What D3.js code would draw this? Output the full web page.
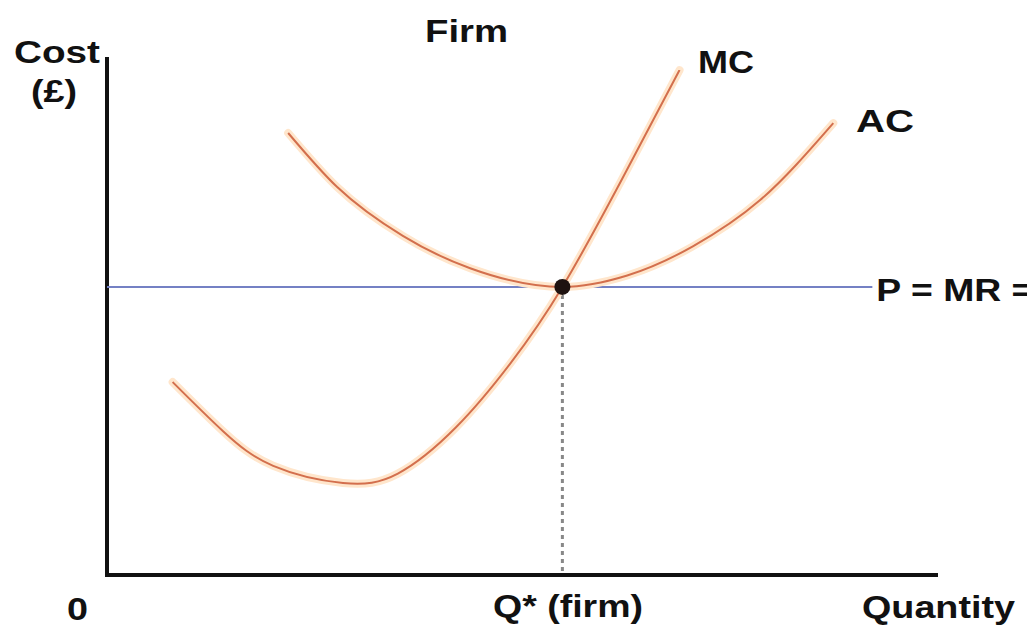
<!DOCTYPE html>
<html>
<head>
<meta charset="utf-8">
<script src="https://cdn.jsdelivr.net/npm/d3@7"></script>
<style>
  body { margin: 0; background: #fff; }
  svg { display: block; }
  text { font-family: "Liberation Sans", Arial, sans-serif; font-weight: bold; fill: #111; }
</style>
</head>
<body>
<svg width="1027" height="635"></svg>
<script>
/* Marginal cost curve (quantity, cost) */
var mcQty  = [7.9, 14, 20, 28.4, 35, 42, 48.5, 54.8, 62, 68.9];
var mcCost = [37.1, 27.6, 21.0, 17.7, 19.5, 28.4, 40.6, 55.4, 76.2, 97.1];

/* Average cost curve */
var acQty  = [21.8, 27.7, 35.6, 43.7, 54.8, 62.6, 70.5, 78.6, 87.4];
var acCost = [85.0, 74.6, 65.2, 59.0, 55.4, 57.6, 63.2, 72.1, 86.9];

/* Equilibrium: price and quantity */
var priceLevel = 55.4;
var qStar = 54.8;
var priceEnd = 92.1;

var labels = {
  title: "Firm",
  yTop: "Cost",
  yBottom: "(£)",
  origin: "0",
  qStar: "Q* (firm)",
  xAxis: "Quantity",
  mc: "MC",
  ac: "AC",
  price: "P = MR = AR"
};

var svg = d3.select("svg");

var x = d3.scaleLinear().domain([0, 100]).range([107, 938]);
var y = d3.scaleLinear().domain([0, 100]).range([575, 55]);

function makeLine(curve) {
  return d3.line()
      .x(function(d) { return x(d[0]); })
      .y(function(d) { return y(d[1]); })
      .curve(curve);
}

var mc = d3.zip(mcQty, mcCost);
var ac = d3.zip(acQty, acCost);

/* Assen */
svg.append("line")
    .attr("x1", x(0)).attr("y1", y(0) + 2)
    .attr("x2", x(0)).attr("y2", y(100) + 2)
    .attr("stroke", "#111").attr("stroke-width", 4);

svg.append("line")
    .attr("x1", x(0) - 2).attr("y1", y(0))
    .attr("x2", x(100)).attr("y2", y(0))
    .attr("stroke", "#111").attr("stroke-width", 4);

/* Prijslijn */
svg.append("line")
    .attr("x1", x(0)).attr("y1", y(priceLevel))
    .attr("x2", x(priceEnd)).attr("y2", y(priceLevel))
    .attr("stroke", "#7481c4").attr("stroke-width", 2);

/* Gestippelde lijn naar Q* */
svg.append("line")
    .attr("x1", x(qStar)).attr("y1", y(priceLevel))
    .attr("x2", x(qStar)).attr("y2", y(0))
    .attr("stroke", "#888").attr("stroke-width", 3)
    .attr("stroke-dasharray", "4,4");

/* Curves: zachte gloed plus dunne lijn */
[[mc, d3.curveNatural], [ac, d3.curveMonotoneX]].forEach(function(c) {
  var d = makeLine(c[1])(c[0]);
  svg.append("path")
      .attr("d", d)
      .attr("fill", "none")
      .attr("stroke", "#ffe6cc")
      .attr("stroke-width", 8)
      .attr("stroke-linecap", "round");
  svg.append("path")
      .attr("d", d)
      .attr("fill", "none")
      .attr("stroke", "#d36f4d")
      .attr("stroke-width", 2);
});

/* Evenwichtspunt */
svg.append("circle")
    .attr("cx", x(qStar))
    .attr("cy", y(priceLevel))
    .attr("r", 8)
    .attr("fill", "#1e1210");

/* Teksten */
function label(str, px, py, w, anchor) {
  var t = svg.append("text")
      .attr("x", px)
      .attr("y", py)
      .attr("font-size", 32)
      .attr("text-anchor", anchor || "start")
      .text(str);
  if (w) t.attr("textLength", w).attr("lengthAdjust", "spacingAndGlyphs");
  return t;
}

label(labels.title, 425, 42, 83);
label(labels.yTop, 14, 63, 86);
label(labels.yBottom, 31, 102, 46);
label(labels.origin, 67, 620, 21);
label(labels.qStar, 493, 617, 150);
label(labels.xAxis, 862, 618, 153);
label(labels.mc, 698, 73, 56);
label(labels.ac, 856, 132, 58);
label(labels.price, x(priceEnd) + 4, y(priceLevel) + 14, 220);
</script>
</body>
</html>
